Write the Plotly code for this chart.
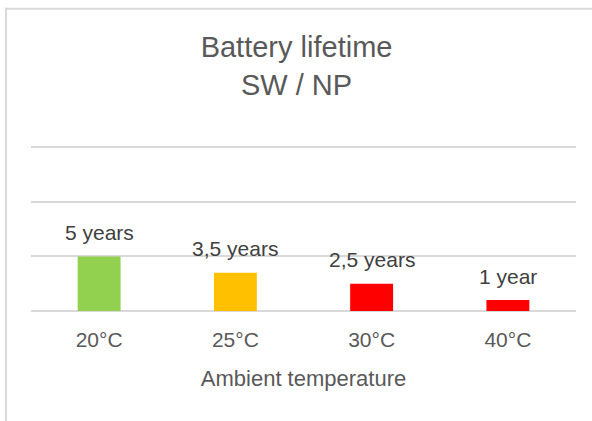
import plotly.graph_objects as go

categories = ["20°C", "25°C", "30°C", "40°C"]
lifetime_years = [5, 3.5, 2.5, 1]
value_labels = ["5 years", "3,5 years", "2,5 years", "1 year"]
bar_colors = ["#92D050", "#FFC000", "#FF0000", "#FF0000"]

FONT = "Arial, 'Liberation Sans', sans-serif"
TEXT = "#595959"
GRID = "#D9D9D9"

W, H = 592, 421
Y_MAX = 15.5
unit_px = 164 / 15
L, R, B = 31, 16, 110
T = 147 - (Y_MAX - 15) * unit_px
pw, ph = W - L - R, H - T - B

def px_x(X):
    return (X - L) / pw

def px_y(Y):
    return (H - B - Y) / ph

fig = go.Figure()
fig.add_trace(go.Bar(
    x=categories, y=lifetime_years,
    marker=dict(color=bar_colors, line=dict(width=0)),
    width=0.315, hoverinfo="skip",
))

for c, v, t in zip(categories, lifetime_years, value_labels):
    fig.add_annotation(x=c, y=v, text=t, showarrow=False, yanchor="middle",
                       yshift=24, font=dict(family=FONT, size=21, color="#404040"))

# chart frame (left and top edges)
fig.add_shape(type="line", xref="paper", yref="paper",
              x0=px_x(6), x1=px_x(6), y0=px_y(7), y1=px_y(440),
              line=dict(color=GRID, width=2), layer="below")
fig.add_shape(type="line", xref="paper", yref="paper",
              x0=px_x(5), x1=px_x(620), y0=px_y(8), y1=px_y(8),
              line=dict(color=GRID, width=2), layer="below")

fig.update_layout(
    width=W, height=H,
    margin=dict(l=L, r=R, t=T, b=B, autoexpand=False),
    paper_bgcolor="white", plot_bgcolor="white",
    showlegend=False,
    font=dict(family=FONT, color=TEXT),
    title=dict(text="Battery lifetime<br>SW / NP", x=px_x(304), xanchor="center",
               y=1 - 57 / H, yanchor="middle", yref="container",
               font=dict(family=FONT, size=29, color=TEXT)),
)
fig.update_xaxes(showgrid=False, showline=False, zeroline=False, ticks="",
                 tickfont=dict(size=21, color=TEXT), ticklabelstandoff=14,
                 title=dict(text="Ambient temperature", font=dict(size=22, color=TEXT), standoff=20),
                 automargin=False)
fig.update_yaxes(range=[0, Y_MAX], tickvals=[0, 5, 10, 15], showgrid=True, gridcolor=GRID, gridwidth=2,
                 zeroline=True, zerolinecolor=GRID, zerolinewidth=2,
                 showticklabels=False, ticks="", showline=False, automargin=False)

fig.write_html("out.html", config={"displayModeBar": False},
               post_script="document.body.style.margin='0';")
